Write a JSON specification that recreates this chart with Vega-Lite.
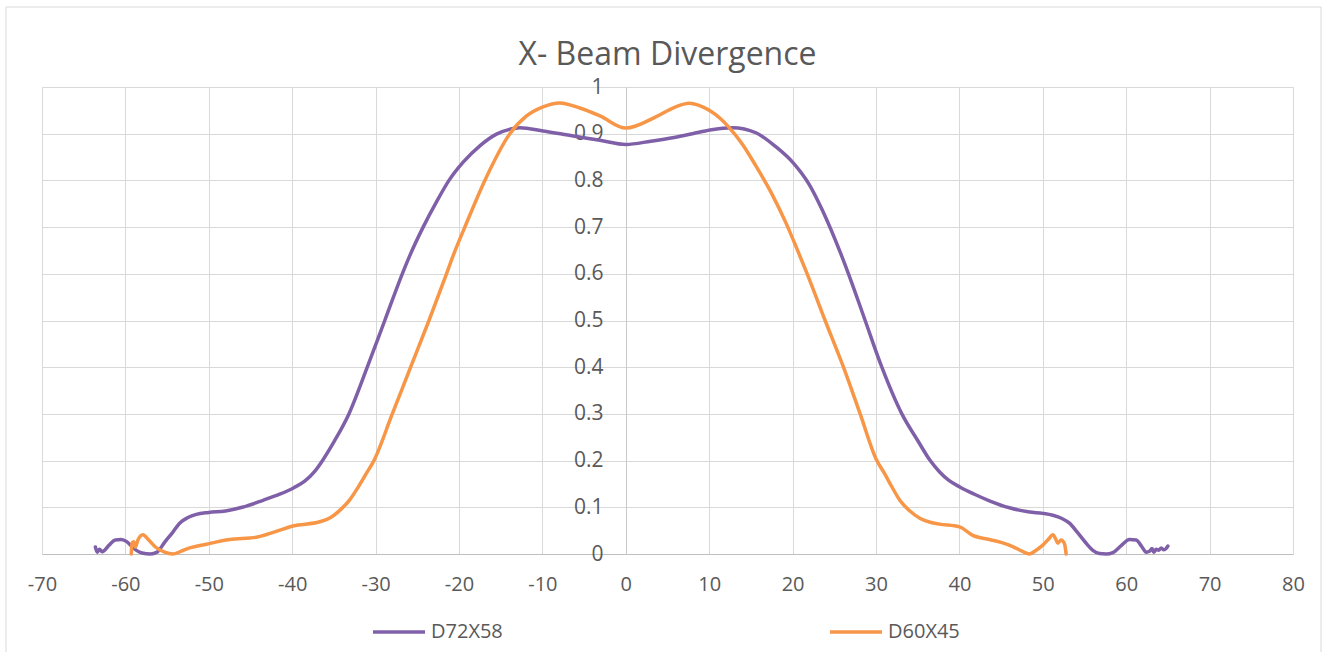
{
  "$schema": "https://vega.github.io/schema/vega-lite/v6.json",
  "width": 1251,
  "height": 467,
  "autosize": {"type": "none"},
  "padding": {"left": 42, "top": 87, "right": 35, "bottom": 98},
  "background": "white",
  "title": {
    "text": "X- Beam Divergence",
    "frame": "group",
    "anchor": "middle",
    "font": "Open Sans",
    "fontSize": 32,
    "fontWeight": "normal",
    "color": "#595959",
    "baseline": "alphabetic",
    "offset": -90
  },
  "config": {
    "view": {"stroke": null},
    "font": "Open Sans"
  },
  "layer": [
    {
      "data": {"values": [{"box": "frame"}]},
      "mark": {"type": "rect", "fill": null, "stroke": "#d9d9d9", "strokeWidth": 1, "clip": false},
      "encoding": {
        "x": {"datum": -74.32, "type": "quantitative", "title": null},
        "x2": {"datum": 83.36},
        "y": {"datum": 1.1713, "type": "quantitative", "title": null},
        "y2": {"datum": -0.216}
      }
    },
    {
      "data": {
        "values": [
          {"series": "D72X58", "x": -63.6, "y": 0.015},
          {"series": "D72X58", "x": -63.4, "y": 0.004},
          {"series": "D72X58", "x": -63.1, "y": 0.010},
          {"series": "D72X58", "x": -62.8, "y": 0.005},
          {"series": "D72X58", "x": -62.5, "y": 0.008},
          {"series": "D72X58", "x": -62.0, "y": 0.018},
          {"series": "D72X58", "x": -61.2, "y": 0.030},
          {"series": "D72X58", "x": -60.5, "y": 0.031},
          {"series": "D72X58", "x": -59.8, "y": 0.026},
          {"series": "D72X58", "x": -59.0, "y": 0.012},
          {"series": "D72X58", "x": -58.0, "y": 0.002},
          {"series": "D72X58", "x": -57.0, "y": 0.000},
          {"series": "D72X58", "x": -56.2, "y": 0.004},
          {"series": "D72X58", "x": -55.3, "y": 0.025},
          {"series": "D72X58", "x": -54.3, "y": 0.047},
          {"series": "D72X58", "x": -53.5, "y": 0.066},
          {"series": "D72X58", "x": -52.5, "y": 0.078},
          {"series": "D72X58", "x": -51.5, "y": 0.085},
          {"series": "D72X58", "x": -50.0, "y": 0.089},
          {"series": "D72X58", "x": -48.0, "y": 0.092},
          {"series": "D72X58", "x": -46.0, "y": 0.100},
          {"series": "D72X58", "x": -43.5, "y": 0.115},
          {"series": "D72X58", "x": -41.5, "y": 0.128},
          {"series": "D72X58", "x": -39.8, "y": 0.142},
          {"series": "D72X58", "x": -38.5, "y": 0.156},
          {"series": "D72X58", "x": -37.3, "y": 0.177},
          {"series": "D72X58", "x": -36.3, "y": 0.202},
          {"series": "D72X58", "x": -35.0, "y": 0.240},
          {"series": "D72X58", "x": -33.2, "y": 0.300},
          {"series": "D72X58", "x": -31.0, "y": 0.400},
          {"series": "D72X58", "x": -28.9, "y": 0.500},
          {"series": "D72X58", "x": -26.8, "y": 0.600},
          {"series": "D72X58", "x": -25.9, "y": 0.639},
          {"series": "D72X58", "x": -24.3, "y": 0.700},
          {"series": "D72X58", "x": -22.7, "y": 0.754},
          {"series": "D72X58", "x": -21.2, "y": 0.800},
          {"series": "D72X58", "x": -19.5, "y": 0.839},
          {"series": "D72X58", "x": -17.5, "y": 0.874},
          {"series": "D72X58", "x": -15.5, "y": 0.899},
          {"series": "D72X58", "x": -13.5, "y": 0.911},
          {"series": "D72X58", "x": -12.7, "y": 0.913},
          {"series": "D72X58", "x": -9.9, "y": 0.906},
          {"series": "D72X58", "x": -6.3, "y": 0.895},
          {"series": "D72X58", "x": -3.1, "y": 0.886},
          {"series": "D72X58", "x": 0.0, "y": 0.877},
          {"series": "D72X58", "x": 3.0, "y": 0.884},
          {"series": "D72X58", "x": 5.8, "y": 0.892},
          {"series": "D72X58", "x": 8.0, "y": 0.900},
          {"series": "D72X58", "x": 10.1, "y": 0.908},
          {"series": "D72X58", "x": 12.8, "y": 0.913},
          {"series": "D72X58", "x": 15.6, "y": 0.902},
          {"series": "D72X58", "x": 18.0, "y": 0.872},
          {"series": "D72X58", "x": 20.1, "y": 0.837},
          {"series": "D72X58", "x": 22.0, "y": 0.791},
          {"series": "D72X58", "x": 23.6, "y": 0.735},
          {"series": "D72X58", "x": 25.8, "y": 0.642},
          {"series": "D72X58", "x": 26.7, "y": 0.600},
          {"series": "D72X58", "x": 28.7, "y": 0.500},
          {"series": "D72X58", "x": 30.7, "y": 0.400},
          {"series": "D72X58", "x": 33.1, "y": 0.300},
          {"series": "D72X58", "x": 35.0, "y": 0.243},
          {"series": "D72X58", "x": 36.5, "y": 0.200},
          {"series": "D72X58", "x": 37.6, "y": 0.176},
          {"series": "D72X58", "x": 38.7, "y": 0.158},
          {"series": "D72X58", "x": 40.1, "y": 0.143},
          {"series": "D72X58", "x": 41.8, "y": 0.128},
          {"series": "D72X58", "x": 43.6, "y": 0.114},
          {"series": "D72X58", "x": 46.0, "y": 0.099},
          {"series": "D72X58", "x": 48.4, "y": 0.090},
          {"series": "D72X58", "x": 50.0, "y": 0.087},
          {"series": "D72X58", "x": 51.2, "y": 0.083},
          {"series": "D72X58", "x": 52.3, "y": 0.076},
          {"series": "D72X58", "x": 53.2, "y": 0.066},
          {"series": "D72X58", "x": 54.2, "y": 0.045},
          {"series": "D72X58", "x": 55.2, "y": 0.023},
          {"series": "D72X58", "x": 56.0, "y": 0.008},
          {"series": "D72X58", "x": 56.8, "y": 0.001},
          {"series": "D72X58", "x": 57.6, "y": 0.000},
          {"series": "D72X58", "x": 58.4, "y": 0.003},
          {"series": "D72X58", "x": 59.4, "y": 0.018},
          {"series": "D72X58", "x": 60.4, "y": 0.031},
          {"series": "D72X58", "x": 61.2, "y": 0.030},
          {"series": "D72X58", "x": 61.9, "y": 0.015},
          {"series": "D72X58", "x": 62.4, "y": 0.004},
          {"series": "D72X58", "x": 62.8, "y": 0.006},
          {"series": "D72X58", "x": 63.1, "y": 0.012},
          {"series": "D72X58", "x": 63.3, "y": 0.004},
          {"series": "D72X58", "x": 63.6, "y": 0.010},
          {"series": "D72X58", "x": 63.9, "y": 0.008},
          {"series": "D72X58", "x": 64.2, "y": 0.013},
          {"series": "D72X58", "x": 64.5, "y": 0.009},
          {"series": "D72X58", "x": 64.8, "y": 0.012},
          {"series": "D72X58", "x": 65.0, "y": 0.017},
          {"series": "D60X45", "x": -59.3, "y": 0.000},
          {"series": "D60X45", "x": -59.2, "y": 0.024},
          {"series": "D60X45", "x": -59.0, "y": 0.026},
          {"series": "D60X45", "x": -58.8, "y": 0.015},
          {"series": "D60X45", "x": -58.5, "y": 0.030},
          {"series": "D60X45", "x": -57.9, "y": 0.041},
          {"series": "D60X45", "x": -57.2, "y": 0.030},
          {"series": "D60X45", "x": -56.4, "y": 0.015},
          {"series": "D60X45", "x": -55.3, "y": 0.004},
          {"series": "D60X45", "x": -54.3, "y": 0.000},
          {"series": "D60X45", "x": -53.3, "y": 0.006},
          {"series": "D60X45", "x": -52.3, "y": 0.013},
          {"series": "D60X45", "x": -50.3, "y": 0.021},
          {"series": "D60X45", "x": -47.5, "y": 0.031},
          {"series": "D60X45", "x": -44.3, "y": 0.036},
          {"series": "D60X45", "x": -42.0, "y": 0.048},
          {"series": "D60X45", "x": -39.9, "y": 0.060},
          {"series": "D60X45", "x": -36.7, "y": 0.069},
          {"series": "D60X45", "x": -35.5, "y": 0.077},
          {"series": "D60X45", "x": -34.2, "y": 0.095},
          {"series": "D60X45", "x": -33.1, "y": 0.116},
          {"series": "D60X45", "x": -32.2, "y": 0.140},
          {"series": "D60X45", "x": -31.2, "y": 0.170},
          {"series": "D60X45", "x": -30.2, "y": 0.200},
          {"series": "D60X45", "x": -28.0, "y": 0.300},
          {"series": "D60X45", "x": -25.8, "y": 0.400},
          {"series": "D60X45", "x": -23.6, "y": 0.500},
          {"series": "D60X45", "x": -21.5, "y": 0.600},
          {"series": "D60X45", "x": -20.7, "y": 0.639},
          {"series": "D60X45", "x": -19.3, "y": 0.700},
          {"series": "D60X45", "x": -16.9, "y": 0.800},
          {"series": "D60X45", "x": -13.9, "y": 0.900},
          {"series": "D60X45", "x": -11.9, "y": 0.938},
          {"series": "D60X45", "x": -10.0, "y": 0.957},
          {"series": "D60X45", "x": -7.9, "y": 0.966},
          {"series": "D60X45", "x": -5.5, "y": 0.955},
          {"series": "D60X45", "x": -3.1, "y": 0.938},
          {"series": "D60X45", "x": 0.0, "y": 0.912},
          {"series": "D60X45", "x": 3.6, "y": 0.936},
          {"series": "D60X45", "x": 5.8, "y": 0.956},
          {"series": "D60X45", "x": 7.6, "y": 0.965},
          {"series": "D60X45", "x": 9.0, "y": 0.959},
          {"series": "D60X45", "x": 10.1, "y": 0.949},
          {"series": "D60X45", "x": 11.3, "y": 0.933},
          {"series": "D60X45", "x": 12.4, "y": 0.913},
          {"series": "D60X45", "x": 14.0, "y": 0.877},
          {"series": "D60X45", "x": 15.6, "y": 0.831},
          {"series": "D60X45", "x": 17.6, "y": 0.768},
          {"series": "D60X45", "x": 19.2, "y": 0.709},
          {"series": "D60X45", "x": 20.6, "y": 0.650},
          {"series": "D60X45", "x": 21.7, "y": 0.602},
          {"series": "D60X45", "x": 23.9, "y": 0.500},
          {"series": "D60X45", "x": 26.1, "y": 0.400},
          {"series": "D60X45", "x": 28.1, "y": 0.300},
          {"series": "D60X45", "x": 30.1, "y": 0.200},
          {"series": "D60X45", "x": 31.0, "y": 0.173},
          {"series": "D60X45", "x": 31.9, "y": 0.144},
          {"series": "D60X45", "x": 32.9, "y": 0.114},
          {"series": "D60X45", "x": 34.0, "y": 0.093},
          {"series": "D60X45", "x": 35.3, "y": 0.076},
          {"series": "D60X45", "x": 36.5, "y": 0.068},
          {"series": "D60X45", "x": 37.6, "y": 0.064},
          {"series": "D60X45", "x": 40.0, "y": 0.058},
          {"series": "D60X45", "x": 41.6, "y": 0.040},
          {"series": "D60X45", "x": 43.6, "y": 0.031},
          {"series": "D60X45", "x": 45.0, "y": 0.025},
          {"series": "D60X45", "x": 46.4, "y": 0.016},
          {"series": "D60X45", "x": 47.5, "y": 0.006},
          {"series": "D60X45", "x": 48.4, "y": 0.000},
          {"series": "D60X45", "x": 49.2, "y": 0.008},
          {"series": "D60X45", "x": 50.0, "y": 0.019},
          {"series": "D60X45", "x": 50.7, "y": 0.032},
          {"series": "D60X45", "x": 51.2, "y": 0.041},
          {"series": "D60X45", "x": 51.6, "y": 0.030},
          {"series": "D60X45", "x": 51.8, "y": 0.023},
          {"series": "D60X45", "x": 52.2, "y": 0.030},
          {"series": "D60X45", "x": 52.6, "y": 0.022},
          {"series": "D60X45", "x": 52.8, "y": 0.000}
        ]
      },
      "mark": {"type": "line", "interpolate": "monotone", "strokeWidth": 3.5, "strokeCap": "round", "strokeJoin": "round"},
      "encoding": {
        "x": {
          "field": "x",
          "type": "quantitative",
          "scale": {"domain": [-70, 80], "nice": false, "zero": false},
          "axis": {
            "title": null,
            "values": [-70, -60, -50, -40, -30, -20, -10, 0, 10, 20, 30, 40, 50, 60, 70, 80],
            "labelExpr": "replace(datum.label, '−', '-')",
            "grid": true,
            "gridColor": "#d9d9d9",
            "gridWidth": 1,
            "domainColor": "#bfbfbf",
            "domainWidth": 1,
            "ticks": false,
            "labelFont": "Open Sans",
            "labelFontSize": 20,
            "labelColor": "#595959",
            "labelPadding": 20,
            "labelFlush": false,
            "labelOverlap": false,
            "labelBound": false
          }
        },
        "y": {
          "field": "y",
          "type": "quantitative",
          "scale": {"domain": [0, 1], "nice": false},
          "axis": {
            "title": null,
            "values": [0, 0.1, 0.2, 0.3, 0.4, 0.5, 0.6, 0.7, 0.8, 0.9, 1],
            "format": "~g",
            "offset": -584,
            "grid": true,
            "gridColor": "#d9d9d9",
            "gridWidth": 1,
            "domainColor": "#c8c8c8",
            "domainWidth": 1,
            "ticks": false,
            "labelFont": "Open Sans",
            "labelFontSize": 21,
            "labelColor": "#595959",
            "labelPadding": 23,
            "labelFlush": false,
            "labelOverlap": false,
            "labelBound": false
          }
        },
        "color": {
          "field": "series",
          "type": "nominal",
          "sort": ["D72X58", "D60X45"],
          "scale": {"domain": ["D72X58", "D60X45"], "range": ["#7F60A8", "#F79646"]},
          "legend": {
            "title": null,
            "orient": "none",
            "legendX": 329,
            "legendY": 517,
            "direction": "horizontal",
            "columns": 2,
            "columnPadding": 320,
            "symbolType": "stroke",
            "symbolSize": 2704,
            "symbolStrokeWidth": 3.5,
            "labelFont": "Open Sans",
            "labelFontSize": 20,
            "labelColor": "#595959",
            "labelOffset": 4
          }
        }
      }
    }
  ]
}
